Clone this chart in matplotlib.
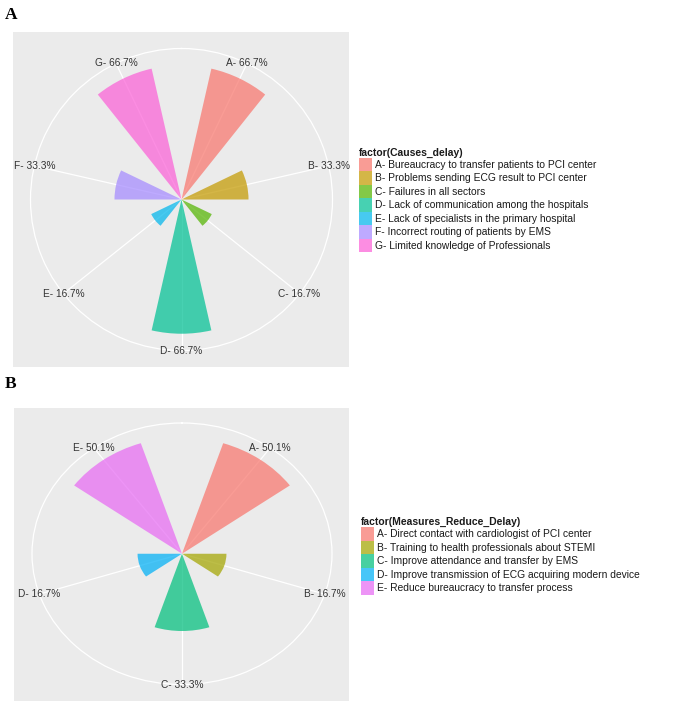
import numpy as np
import matplotlib
matplotlib.use("Agg")
import matplotlib.pyplot as plt

# ---- Data ----
causes_codes = ["A", "B", "C", "D", "E", "F", "G"]
causes_values = [66.7, 33.3, 16.7, 66.7, 16.7, 33.3, 66.7]
causes_labels = [
    "A- Bureaucracy to transfer patients to PCI center",
    "B- Problems sending ECG result to PCI center",
    "C- Failures in all sectors",
    "D- Lack of communication among the hospitals",
    "E- Lack of specialists in the primary hospital",
    "F- Incorrect routing of patients by EMS",
    "G- Limited knowledge of Professionals",
]
causes_colors = ["#F8766D", "#C49A00", "#53B400", "#00C094", "#00B6EB", "#A58AFF", "#FB61D7"]

measures_codes = ["A", "B", "C", "D", "E"]
measures_values = [50.1, 16.7, 33.3, 16.7, 50.1]
measures_labels = [
    "A- Direct contact with cardiologist of PCI center",
    "B- Training to health professionals about STEMI",
    "C- Improve attendance and transfer by EMS",
    "D- Improve transmission of ECG acquiring modern device",
    "E- Reduce bureaucracy to transfer process",
]
measures_colors = ["#F8766D", "#A3A500", "#00BF7D", "#00B0F6", "#E76BF3"]

W, H = 685, 708
fig = plt.figure(figsize=(W / 100, H / 100), dpi=100)
fig.patch.set_facecolor("white")

LEG_FS = 7.4
LAB_FS = 7.3


def frac_rect(x0, y0, x1, y1):
    return [x0 / W, (H - y1) / H, (x1 - x0) / W, (y1 - y0) / H]


def polar_panel(bg_px, circ_px, codes, values, labels, colors, title, legend_xy, panel_letter, letter_xy):
    bg = fig.add_axes(frac_rect(*bg_px))
    bg.set_facecolor("#EBEBEB")
    bg.set_xticks([])
    bg.set_yticks([])
    for s in bg.spines.values():
        s.set_visible(False)

    ax = fig.add_axes(frac_rect(*circ_px), projection="polar")
    ax.set_aspect("auto")
    ax.patch.set_alpha(0)
    ax.set_theta_zero_location("N")
    ax.set_theta_direction(-1)
    n = len(values)
    slot = 2 * np.pi / n
    thetas = (np.arange(n) + 0.5) * slot
    rmax = max(values) * 0.45 / 0.4
    ax.set_ylim(0, rmax)
    ax.set_xticks(thetas)
    ax.set_xticklabels([])
    ax.set_yticks([])
    ax.grid(True, axis="x", color="white", linewidth=0.9)
    ax.grid(False, axis="y")
    ax.spines["polar"].set_color("white")
    ax.spines["polar"].set_linewidth(0.9)
    ax.tick_params(axis="x", length=0, pad=0)
    bars = ax.bar(thetas, values, width=slot * 0.5, color=colors, alpha=0.72,
                  linewidth=0, zorder=3)
    for t, c, v in zip(thetas, codes, values):
        ax.text(t, rmax, f"{c}- {v}%", ha="center", va="center",
                fontsize=LAB_FS, color="#333333", family="Liberation Sans", zorder=5,
                clip_on=False)

    leg = fig.legend(bars.patches, labels, title=title, loc="center left",
                     bbox_to_anchor=legend_xy, frameon=False, borderpad=0,
                     borderaxespad=0, labelspacing=0, handlelength=1.31,
                     handleheight=1.65, handletextpad=0.2,
                     prop={"family": "Liberation Sans", "size": LEG_FS},
                     title_fontproperties={"family": "Liberation Sans", "size": 7.5,
                                           "weight": "bold"},
                     alignment="left")
    for t in leg.get_texts():
        t.set_color("#1a1a1a")
    leg.get_title().set_color("#1a1a1a")

    fig.text(letter_xy[0] / W, 1 - letter_xy[1] / H, panel_letter,
             family="Liberation Serif", weight="bold", fontsize=12.5,
             ha="left", va="top")


polar_panel((13, 32, 349, 367), (30.5, 48.5, 332.5, 350.5),
            causes_codes, causes_values, causes_labels, causes_colors,
            "factor(Causes_delay)", (359 / W, 1 - 200 / H), "A", (5, 7))

polar_panel((14, 408, 349, 701), (32, 423, 332, 684.5),
            measures_codes, measures_values, measures_labels, measures_colors,
            "factor(Measures_Reduce_Delay)", (361 / W, 1 - 556 / H), "B", (5, 376))

fig.savefig("out.png", dpi=100)
